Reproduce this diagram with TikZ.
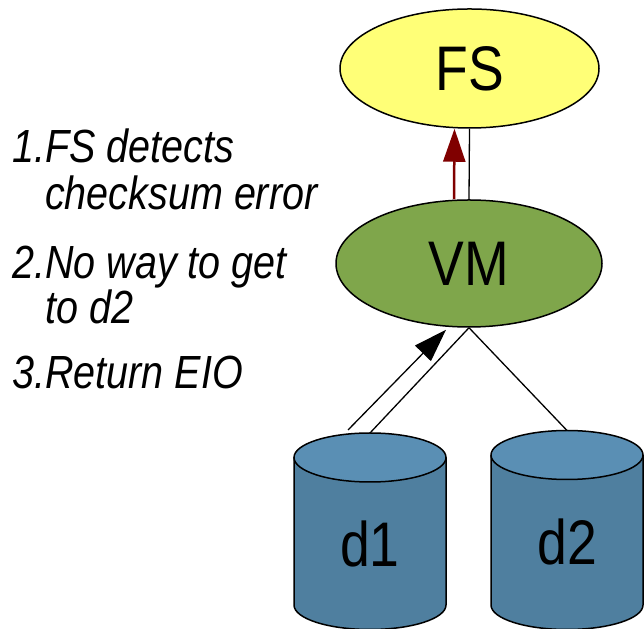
\documentclass[tikz,border=0pt]{standalone}
\usepackage{fontspec}
\setmainfont{Liberation Sans}
\newfontfamily\narrowsans[FakeStretch=0.85]{Liberation Sans}
\usetikzlibrary{arrows.meta, shapes.geometric}
\definecolor{fsyellow}{HTML}{FFFF77}
\definecolor{vmgreen}{HTML}{7FA64B}
\definecolor{disktop}{HTML}{5A8FB4}
\definecolor{diskbody}{HTML}{4F7F9F}
\definecolor{darkred}{HTML}{800000}

\begin{document}
\begin{tikzpicture}[x=1pt, y=1pt,
    layer/.style={ellipse, draw, line width=1.5pt, inner sep=0pt, font=\narrowsans\fontsize{63}{63}\selectfont},
    itemtxt/.style={anchor=base west, inner sep=0pt, font=\narrowsans\itshape\fontsize{46.5}{46.5}\selectfont},
    bigtip/.style={-{Triangle[length=33pt, width=22pt]}}]
    \useasboundingbox (0,0) rectangle (644,628);

    % Draw the two layers
    \node[layer, fill=fsyellow, minimum width=259pt, minimum height=119pt] (FS) at (469.5,559.5) {FS};
    \node[layer, fill=vmgreen, minimum width=266pt, minimum height=127pt] (VM) at (469,364.5) {VM};

    % Draw the disks
    \foreach \disk/\cx/\cy/\ly in {d1/370/170.5/84, d2/567/173/86} {
        \filldraw[fill=diskbody, line width=1.5pt] (\cx-76,\cy) -- (\cx-76,23)
            arc[start angle=180, end angle=360, x radius=76pt, y radius=24.5pt] -- (\cx+76,\cy);
        \draw[fill=disktop, line width=1.5pt] (\cx,\cy) ellipse[x radius=76pt, y radius=24.5pt];
        \coordinate (\disk-top) at (\cx,\cy+24.5);
        \node[font=\narrowsans\fontsize{63}{63}\selectfont] (\disk) at (\cx,\ly) {\disk};
    }

    % Connectors
    \draw[line width=1.3pt] (FS.south) -- (VM.north);
    \draw[darkred, line width=2.5pt, bigtip] ([xshift=-15pt]VM.north) -- ([xshift=-15pt]FS.south);
    \draw[line width=1.3pt] (VM.south) -- (d1-top);
    \draw[line width=1.3pt] (VM.south) -- (d2-top);
    \draw[line width=1.3pt, bigtip] ([shift={(-22pt,3pt)}]d1-top) -- ([shift={(-23pt,-2pt)}]VM.south);

    % Steps
    \node[itemtxt] (item1) at (12,465) {1.FS detects};
    \node[itemtxt] (item1b) at (12,418) {\phantom{1.}checksum error};
    \node[itemtxt] (item2) at (12,349) {2.No way to get};
    \node[itemtxt] (item2b) at (12,304) {\phantom{2.}to d2};
    \node[itemtxt] (item3) at (12,239) {3.Return EIO};
\end{tikzpicture}
\end{document}
